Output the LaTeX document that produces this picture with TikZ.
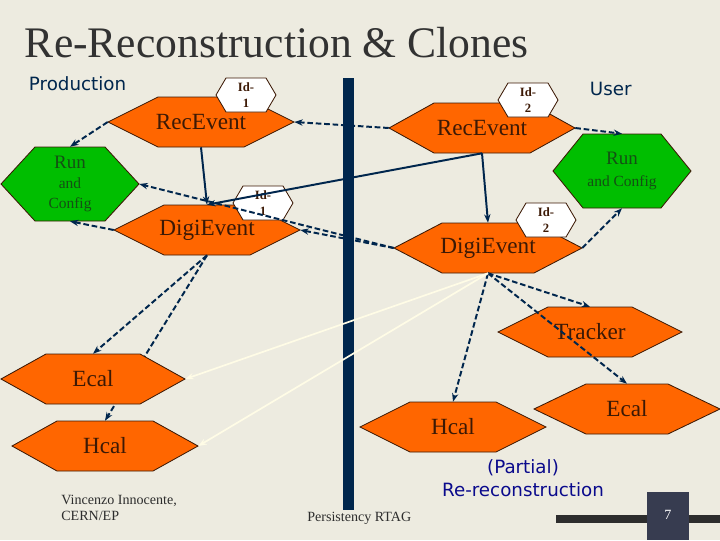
\documentclass[tikz,border=0pt]{standalone}
\usepackage{fontspec}
\setmainfont{Liberation Serif}
\newfontfamily\comicfont{DejaVu Sans}
\usetikzlibrary{arrows.meta}
\usepackage{xcolor}
\definecolor{cfond}{RGB}{237,235,224}
\definecolor{corange}{RGB}{255,102,0}
\definecolor{cvert}{RGB}{0,190,0}
\definecolor{cvertf}{RGB}{20,80,20}
\definecolor{cmarine}{RGB}{0,38,77}
\definecolor{cbrun}{RGB}{60,25,5}
\definecolor{ccreme}{RGB}{255,252,230}
\definecolor{cbleu}{RGB}{10,10,140}
\definecolor{ctitre}{RGB}{50,50,50}
\definecolor{cgris}{RGB}{45,45,45}
\definecolor{cardoise}{RGB}{55,60,80}
\newcommand\hexfont{\fontsize{16.5}{18}\selectfont}
\newcommand\runfont{\fontsize{13.5}{15}\selectfont}
\newcommand\andfont{\fontsize{11}{14}\selectfont}
\newcommand\andRfont{\fontsize{11}{15.6}\selectfont}
\newcommand\idfont{\fontsize{9}{11.4}\selectfont\bfseries}
\pgfdeclarelayer{fond}
\pgfdeclarelayer{dessous}
\pgfsetlayers{fond,dessous,main}

\begin{document}
\begin{tikzpicture}[x=0.025cm, y=-0.025cm, >={Stealth[length=6pt,width=4.5pt]},
  hexline/.style={draw=cbrun, line width=0.6pt},
  hexlabel/.style={inner sep=0pt, align=center},
  lien/.style={->, cmarine, line width=1.4pt, dash pattern=on 4pt off 2pt},
  plein/.style={->, cmarine, line width=1.4pt},
  clair/.style={->, ccreme, line width=1.2pt}]
\begin{pgfonlayer}{fond}
\fill[cfond] (0,0) rectangle (720,540);
\end{pgfonlayer}
\useasboundingbox (0,0) rectangle (720,540);
\fill[cmarine] (343,78) rectangle (354,510);
% hexagones
\foreach \n/\cx/\cy/\w/\h/\i/\col/\tc/\fnt/\txt in {
    recL/201/122/93/25/50/corange/cbrun/\hexfont/{RecEvent},
    runL/70/184/69/37/34/cvert/cvertf/\andfont/{{\runfont Run}\\and\\Config},
    digiL/207/230/93/25/50/corange/cbrun/\hexfont/{DigiEvent},
    recR/482/128/93/25/45/corange/cbrun/\hexfont/{RecEvent},
    runR/622/171/69/37/30/cvert/cvertf/\andRfont/{{\runfont Run}\\and Config},
    digiR/488/248/94/25/48/corange/cbrun/\hexfont/{DigiEvent},
    tracker/590/332/92/25/50/corange/cbrun/\hexfont/{Tracker},
    ecalR/627/409/93/25/52/corange/cbrun/\hexfont/{Ecal},
    hcalR/453/427/93/25/50/corange/cbrun/\hexfont/{Hcal},
    ecalL/93/379/92/25/45/corange/cbrun/\hexfont/{Ecal},
    hcalL/105/446/93/25/45/corange/cbrun/\hexfont/{Hcal},
    idA/246/95/30/17/10/white/cbrun/\idfont/{Id-\\1},
    idB/263/203/30/17/10/white/cbrun/\idfont/{Id-\\1},
    idC/528/100/30/17/10/white/cbrun/\idfont/{Id-\\2},
    idD/546/220/30/17/10/white/cbrun/\idfont/{Id-\\2}}
  {\draw[hexline, fill=\col] (\cx-\w,\cy) -- (\cx-\w+\i,\cy-\h) -- (\cx+\w-\i,\cy-\h)
     -- (\cx+\w,\cy) -- (\cx+\w-\i,\cy+\h) -- (\cx-\w+\i,\cy+\h) -- cycle;
   \node[hexlabel, text=\tc, font=\fnt, minimum width=2*\w*0.025cm, minimum height=2*\h*0.025cm]
     (\n) at (\cx,\cy) {\txt};}
% liens
\begin{pgfonlayer}{dessous}
\draw[lien] (digiL.south) -- (hcalL.north);
\end{pgfonlayer}
\draw[lien] (recL.west) -- (runL.north);
\draw[lien] (digiL.west) -- (runL.south);
\draw[plein] (recL.south) -- (digiL.north);
\draw[plein] (recR.south) -- (digiL.north);
\draw[plein] (recR.south) -- (digiR.north);
\draw[lien] (recR.west) -- (recL.east);
\draw[lien] (digiR.west) -- (digiL.east);
\draw[lien] (digiR.west) -- (runL.east);
\draw[lien] (recR.east) -- (runR.north);
\draw[lien] (digiR.east) -- (runR.south);
\draw[lien] (digiL.south) -- (ecalL.north);
\draw[lien] (digiR.south) -- (hcalR.north);
\draw[lien] (digiR.south) -- (tracker.north);
\draw[lien] (digiR.south) -- (ecalR.north);
\draw[clair] (digiR.south) -- (ecalL.east);
\draw[clair] (digiR.south) -- (hcalL.east);
% textes
\node[anchor=base west, text=ctitre, font=\fontsize{31}{31}\selectfont] (titre) at (20,57) {Re-Reconstruction \& Clones};
\node[anchor=base west, text=cmarine, font=\comicfont\fontsize{13}{15}\selectfont] (prod) at (24,90) {Production};
\node[anchor=base west, text=cmarine, font=\comicfont\fontsize{13}{15}\selectfont] (user) at (585,95) {User};
\node[align=center, text=cbleu, font=\comicfont\fontsize{13}{16.4}\selectfont] (partiel) at (523,478) {(Partial)\\Re-reconstruction};
\node[anchor=west, align=left, inner sep=0pt, text=cgris, font=\fontsize{10}{11.4}\selectfont] (auteur) at (61,508) {Vincenzo Innocente,\\CERN/EP};
\node[anchor=base west, inner sep=0pt, text=cgris, font=\fontsize{10}{12}\selectfont] (rtag) at (307,521) {Persistency RTAG};
% pied de page
\fill[cgris] (556,515) rectangle (720,523);
\fill[cardoise] (647,492) rectangle (689,540);
\node[text=white, font=\fontsize{10}{12}\selectfont] (page) at (668,515) {7};
\end{tikzpicture}
\end{document}
